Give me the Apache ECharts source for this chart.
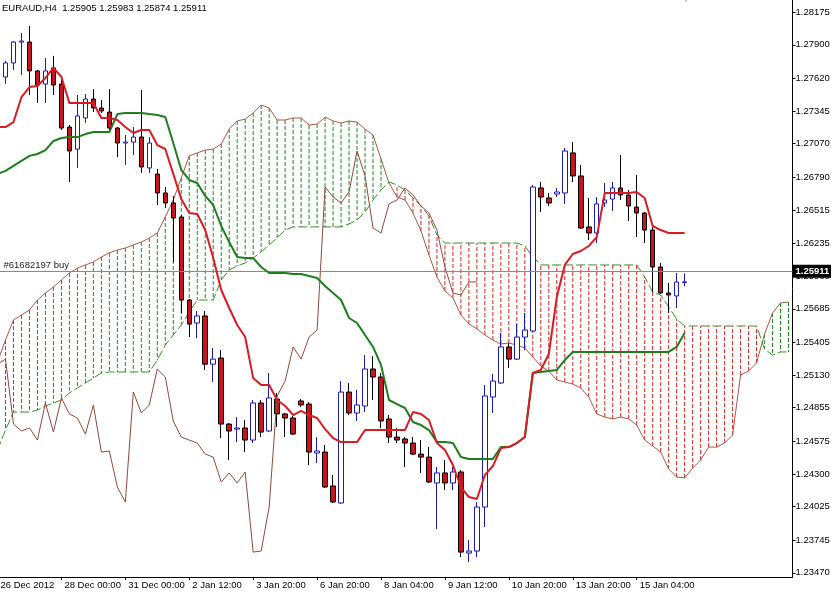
<!DOCTYPE html>
<html><head><meta charset="utf-8">
<script src="https://cdn.jsdelivr.net/npm/echarts@6/dist/echarts.min.js"></script>
<style>html,body{margin:0;padding:0;background:#fff}#c{width:831px;height:592px}</style>
</head><body><div id="c"></div>
<script>
const headerText = 'EURAUD,H4  1.25905 1.25983 1.25874 1.25911';
const orderText = '#61682197 buy';
const orderPrice = 1.2596;
const bidPrice = 1.25911;

// time axis labels: [category index, text]
const timeLabels = [[0,'26 Dec 2012'],[8,'28 Dec 00:00'],[16,'31 Dec 00:00'],[24,'2 Jan 12:00'],[32,'3 Jan 20:00'],[40,'6 Jan 20:00'],[48,'8 Jan 04:00'],[56,'9 Jan 12:00'],[64,'10 Jan 20:00'],[72,'13 Jan 20:00'],[80,'15 Jan 04:00']];
const priceTicks = [1.28175,1.27900,1.27620,1.27345,1.27070,1.26790,1.26515,1.26235,1.25960,1.25685,1.25405,1.25130,1.24855,1.24575,1.24300,1.24025,1.23745,1.23470];

const opens = [1.27630,1.27748,1.27923,1.27923,1.27681,1.27571,1.27706,1.27571,1.27210,1.27025,
1.27286,1.27445,1.27370,1.27336,1.27202,1.27076,1.27084,1.27126,1.26867,1.26816,
1.26657,1.26573,1.26455,1.25759,1.25566,1.25625,1.25221,1.25272,1.24718,1.24676,
1.24685,1.24584,1.24895,1.24660,1.24928,1.24803,1.24769,1.24912,1.24886,1.24475,
1.24483,1.24199,1.24056,1.24987,1.24811,1.24870,1.25180,1.25113,1.24761,1.24609,
1.24593,1.24559,1.24466,1.24441,1.24224,1.24308,1.24224,1.24316,1.23636,1.23653,
1.24022,1.24945,1.25063,1.25365,1.25263,1.25448,1.25499,1.26699,1.26615,1.26648,
1.26657,1.26993,1.26800,1.26372,1.26321,1.26573,1.26606,1.26699,1.26640,1.26539,
1.26489,1.26346,1.26036,1.25818,1.25793,1.25905];
const closes = [1.27748,1.27923,1.27932,1.27681,1.27563,1.27681,1.27563,1.27202,1.27009,1.27303,
1.27445,1.27370,1.27345,1.27202,1.27076,1.27084,1.27126,1.26875,1.27076,1.26657,
1.26573,1.26447,1.25759,1.25557,1.25625,1.25221,1.25263,1.24718,1.24660,1.24685,
1.24584,1.24895,1.24651,1.24937,1.24803,1.24769,1.24634,1.24878,1.24483,1.24492,
1.24190,1.24064,1.24987,1.24811,1.24878,1.25180,1.25113,1.24744,1.24609,1.24584,
1.24559,1.24466,1.24441,1.24232,1.24308,1.24224,1.24316,1.23644,1.23653,1.24022,
1.24954,1.25079,1.25365,1.25263,1.25448,1.25507,1.26707,1.26623,1.26573,1.26665,
1.27009,1.26800,1.26363,1.26321,1.26565,1.26598,1.26699,1.26640,1.26548,1.26489,
1.26346,1.26036,1.25818,1.25801,1.25910,1.25911];
const lows = [1.27571,1.27689,1.27647,1.27479,1.27412,1.27412,1.27479,1.27185,1.26749,1.26867,
1.27244,1.27336,1.27328,1.27185,1.26958,1.26892,1.26975,1.26825,1.26825,1.26556,
1.26531,1.26078,1.25650,1.25448,1.25440,1.25172,1.25071,1.24601,1.24416,1.24567,
1.24483,1.24559,1.24609,1.24651,1.24693,1.24609,1.24626,1.24861,1.24374,1.24391,
1.24182,1.24056,1.24047,1.24794,1.24744,1.24819,1.24920,1.24685,1.24559,1.24559,
1.24358,1.24458,1.24308,1.24224,1.23837,1.24165,1.24165,1.23602,1.23560,1.23602,
1.23854,1.24811,1.25054,1.25188,1.25255,1.25339,1.25490,1.26497,1.26548,1.26623,
1.26565,1.26749,1.26355,1.26262,1.26237,1.26539,1.26506,1.26598,1.26422,1.26287,
1.26237,1.25826,1.25810,1.25650,1.25692,1.25874];
const highs = [1.27765,1.27932,1.27999,1.28058,1.27689,1.27790,1.27807,1.27639,1.27227,1.27479,
1.27487,1.27529,1.27437,1.27529,1.27210,1.27143,1.27210,1.27521,1.27126,1.26858,
1.26707,1.26632,1.26472,1.25767,1.25667,1.25667,1.25356,1.25339,1.24727,1.24777,
1.24752,1.24920,1.24920,1.25147,1.24979,1.24811,1.24786,1.24928,1.24903,1.24609,
1.24542,1.24291,1.25079,1.25063,1.25004,1.25297,1.25288,1.25147,1.24794,1.24685,
1.24609,1.24609,1.24584,1.24525,1.24358,1.24416,1.24358,1.24333,1.23745,1.24064,
1.25046,1.25138,1.25482,1.25398,1.25557,1.25650,1.26724,1.26749,1.26657,1.26699,
1.27034,1.27084,1.26892,1.26615,1.26623,1.26741,1.26749,1.26976,1.26682,1.26808,
1.26497,1.26372,1.26070,1.25902,1.25986,1.25983];

// tenkan / kijun, from category 0 (one bar before the first candle)
const tenkan = [1.27210,
1.27210,1.27252,1.27462,1.27546,1.27555,1.27622,1.27706,1.27630,1.27412,1.27412,
1.27412,1.27412,1.27286,1.27286,1.27269,1.27210,1.27160,1.27185,1.27185,1.27059,
1.27026,1.26817,1.26606,1.26489,1.26480,1.26346,1.26111,1.25843,1.25692,1.25549,
1.25448,1.25104,1.25046,1.25046,1.24920,1.24870,1.24794,1.24828,1.24794,1.24769,
1.24676,1.24601,1.24567,1.24567,1.24567,1.24668,1.24668,1.24668,1.24668,1.24668,
1.24668,1.24819,1.24803,1.24752,1.24559,1.24500,1.24374,1.24190,1.24106,1.24089,
1.24291,1.24366,1.24517,1.24525,1.24559,1.24609,1.25147,1.25172,1.25306,1.25784,
1.26053,1.26145,1.26170,1.26212,1.26287,1.26657,1.26657,1.26657,1.26657,1.26665,
1.26615,1.26380,1.26346,1.26321,1.26321,1.26321];
const kijun = [1.26817,
1.26842,1.26884,1.26926,1.26968,1.26984,1.27017,1.27093,1.27118,1.27126,1.27126,
1.27151,1.27168,1.27168,1.27168,1.27319,1.27328,1.27328,1.27328,1.27319,1.27311,
1.27294,1.27076,1.26850,1.26766,1.26741,1.26632,1.26556,1.26380,1.26245,1.26120,
1.26111,1.26111,1.26036,1.25986,1.25986,1.25986,1.25977,1.25977,1.25960,1.25944,
1.25877,1.25818,1.25759,1.25608,1.25566,1.25465,1.25365,1.25214,1.24920,1.24886,
1.24853,1.24735,1.24710,1.24668,1.24567,1.24567,1.24559,1.24441,1.24425,1.24425,
1.24425,1.24425,1.24525,1.24525,1.24559,1.24609,1.25147,1.25155,1.25163,1.25172,
1.25255,1.25323,1.25323,1.25323,1.25323,1.25323,1.25323,1.25323,1.25323,1.25323,
1.25323,1.25323,1.25323,1.25323,1.25365,1.25482];
// chikou span, from category 0
const chikou = [1.25221,
1.25263,1.24718,1.24660,1.24685,1.24584,1.24895,1.24651,1.24937,1.24803,1.24769,
1.24634,1.24878,1.24483,1.24492,1.24190,1.24064,1.24987,1.24811,1.24878,1.25180,
1.25113,1.24744,1.24609,1.24584,1.24559,1.24466,1.24441,1.24232,1.24308,1.24224,
1.24316,1.23644,1.23653,1.24022,1.24954,1.25079,1.25365,1.25263,1.25448,1.25507,
1.26707,1.26623,1.26573,1.26665,1.27009,1.26800,1.26363,1.26321,1.26565,1.26598,
1.26699,1.26640,1.26548,1.26489,1.26346,1.26036,1.25818,1.25801,1.25910,1.25911];
// senkou spans, category 0..99
const spanA = [1.25238,1.25423,1.25591,1.25633,1.25675,1.25759,1.25818,1.25868,1.25927,1.25986,
1.26027,1.26053,1.26078,1.26120,1.26154,1.26178,1.26195,1.26221,1.26246,1.26279,
1.26321,1.26456,1.26598,1.26783,1.26968,1.26993,1.27017,1.27025,1.27067,1.27193,
1.27261,1.27277,1.27328,1.27395,1.27370,1.27269,1.27269,1.27286,1.27286,1.27227,
1.27235,1.27294,1.27261,1.27244,1.27261,1.27252,1.27193,1.27143,1.26942,1.26741,
1.26623,1.26598,1.26489,1.26338,1.26137,1.25952,1.25835,1.25776,1.25633,1.25558,
1.25516,1.25465,1.25423,1.25390,1.25398,1.25381,1.25356,1.25281,1.25205,1.25163,
1.25088,1.25071,1.25054,1.25021,1.24945,1.24803,1.24777,1.24761,1.24777,1.24761,
1.24710,1.24584,1.24534,1.24483,1.24341,1.24274,1.24266,1.24349,1.24416,1.24525,
1.24525,1.24559,1.24626,1.25130,1.25163,1.25230,1.25473,1.25650,1.25734,1.25742];
const spanB = [1.24500,1.24668,1.24819,1.24819,1.24819,1.24836,1.24870,1.24895,1.24920,1.24979,
1.25021,1.25063,1.25104,1.25147,1.25155,1.25155,1.25155,1.25155,1.25155,1.25155,
1.25255,1.25381,1.25465,1.25549,1.25658,1.25759,1.25759,1.25759,1.25927,1.26011,
1.26044,1.26070,1.26111,1.26162,1.26221,1.26279,1.26346,1.26372,1.26372,1.26372,
1.26372,1.26372,1.26372,1.26372,1.26397,1.26430,1.26497,1.26598,1.26682,1.26749,
1.26724,1.26682,1.26615,1.26548,1.26464,1.26304,1.26237,1.26237,1.26237,1.26237,
1.26237,1.26237,1.26237,1.26237,1.26237,1.26237,1.26212,1.26120,1.26053,1.26053,
1.26053,1.26053,1.26053,1.26053,1.26053,1.26053,1.26053,1.26053,1.26053,1.26053,
1.26053,1.25952,1.25826,1.25801,1.25701,1.25600,1.25541,1.25541,1.25541,1.25541,
1.25541,1.25541,1.25541,1.25541,1.25541,1.25541,1.25348,1.25297,1.25323,1.25323];

const NCAT = spanA.length;
const cats = Array.from({length: NCAT}, (_, k) => String(k));
const labelAt = new Map(timeLabels);
const FONT = 'Liberation Sans';

const candleData = opens.map((o, i) => [i + 1, o, closes[i], lows[i], highs[i]]);
const indexed = (arr, start) => arr.map((v, i) => [i + start, v]);
// vertical hatch segments, one polyline with breaks per cloud colour
function hatch(upper) {
  const out = [];
  spanA.forEach((a, k) => {
    const b = spanB[k];
    if ((a >= b) === upper) { out.push([k, a], [k, b], [k, null]); }
  });
  return out;
}

const chart = echarts.init(document.getElementById('c'), null, {renderer: 'canvas'});
chart.setOption({
  animation: false,
  backgroundColor: '#fff',
  title: {text: headerText, left: 2, top: 3, padding: 0,
    textStyle: {fontSize: 9.5, fontWeight: 'normal', fontFamily: FONT, color: '#000'}},
  graphic: [{type: 'text', left: 682, top: -4, style: {text: '▼', fill: '#b4b4b4', fontSize: 8}}],
  grid: {left: -6.5, right: 38.5, top: 0, bottom: 15, containLabel: false, outerBoundsMode: 'none'},
  xAxis: {
    type: 'category', data: cats, boundaryGap: true,
    axisLine: {show: true, lineStyle: {color: '#000', width: 1}},
    axisTick: {show: true, alignWithLabel: true, length: 3, interval: (i) => labelAt.has(i), lineStyle: {color: '#000'}},
    axisLabel: {interval: 0, formatter: (v, i) => labelAt.get(i) || '', align: 'left', margin: 3,
      padding: [0, 0, 0, 3], color: '#000', fontSize: 9.5, fontFamily: FONT},
    splitLine: {show: false}
  },
  yAxis: {
    type: 'value', position: 'right', min: 1.23435, max: 1.28276, scale: true,
    axisLine: {show: true, lineStyle: {color: '#000', width: 1}},
    axisTick: {show: true, customValues: priceTicks, length: 3, lineStyle: {color: '#000'}},
    axisLabel: {customValues: priceTicks, formatter: (v) => v.toFixed(5), margin: 3,
      color: '#000', fontSize: 9.5, fontFamily: FONT},
    splitLine: {show: false}
  },
  series: [
    {name: 'cloudUp', type: 'line', data: hatch(true), z: 1, symbol: 'none', silent: true,
      connectNulls: false, color: '#1c8a1c', lineStyle: {color: '#1c8a1c', width: 1, type: [4, 2]}},
    {name: 'cloudDown', type: 'line', data: hatch(false), z: 1, symbol: 'none', silent: true,
      connectNulls: false, color: '#d82424', lineStyle: {color: '#d82424', width: 1, type: [4, 2]}},
    {name: 'spanA', type: 'line', data: indexed(spanA, 0), z: 2, symbol: 'none', silent: true,
      lineStyle: {color: '#a8584c', width: 1}},
    {name: 'spanB', type: 'line', data: indexed(spanB, 0), z: 2, symbol: 'none', silent: true,
      lineStyle: {color: '#3c8c2c', width: 1, type: [9, 3]}},
    {
      name: 'price', type: 'candlestick', z: 3, barWidth: 5, silent: true,
      data: candleData, encode: {x: 0, y: [1, 2, 3, 4]},
      itemStyle: {color: '#ffffff', borderColor: '#1c1ca8', color0: '#c8141c', borderColor0: '#000000', borderWidth: 1}
    },
    {name: 'chikou', type: 'line', data: indexed(chikou, 0), z: 4, symbol: 'none', silent: true,
      lineStyle: {color: '#8e4a3e', width: 1}},
    {name: 'kijun', type: 'line', data: indexed(kijun, 0), z: 5, symbol: 'none', silent: true,
      lineStyle: {color: '#1e7d1e', width: 2}},
    {name: 'tenkan', type: 'line', data: indexed(tenkan, 0), z: 6, symbol: 'none', silent: true,
      lineStyle: {color: '#d81c24', width: 2},
      markLine: {
        silent: true, symbol: ['none', 'none'], animation: false,
        data: [
          {yAxis: orderPrice, lineStyle: {color: '#3f9a3f', width: 1, type: [10, 3, 2, 3]},
            label: {show: true, position: 'insideStartTop', formatter: orderText, color: '#222',
              fontSize: 9.5, fontFamily: FONT, distance: 1, padding: [0, 0, 0, 9]}},
          {yAxis: bidPrice, lineStyle: {color: '#8a8a8a', width: 1, type: 'solid'},
            label: {show: true, position: 'end', formatter: bidPrice.toFixed(5), color: '#fff',
              backgroundColor: '#000', fontSize: 9.5, fontWeight: 'bold', fontFamily: FONT,
              distance: 0, padding: [2, 4, 1, 3]}}
        ]
      }}
  ]
});
</script></body></html>
